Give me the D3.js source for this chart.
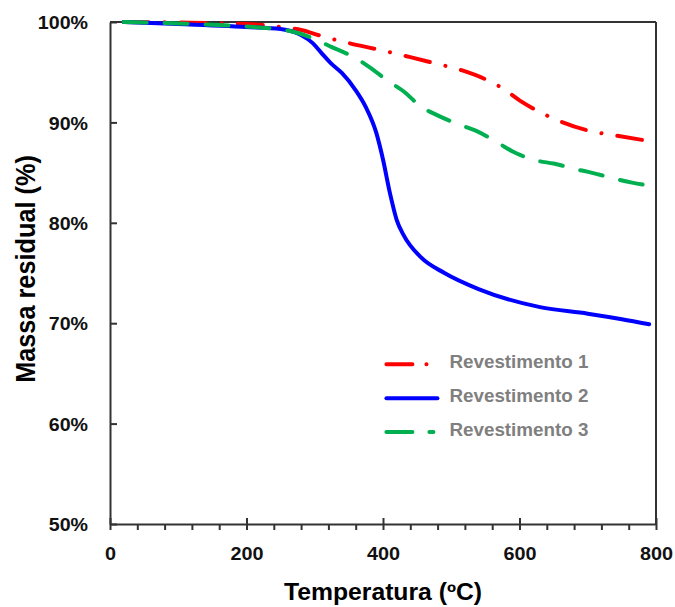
<!DOCTYPE html>
<html>
<head>
<meta charset="utf-8">
<script src="https://cdn.jsdelivr.net/npm/d3@7"></script>
<style>
  html, body { margin: 0; padding: 0; background: #fff; }
  svg text { font-family: "Liberation Sans", Arial, sans-serif; font-weight: bold; }
</style>
</head>
<body>
<div id="chart"></div>
<script>
// series names and colours
var seriesNames = ['Revestimento 1', 'Revestimento 2', 'Revestimento 3'];
var seriesColors = ['#ff0000', '#0000ff', '#00b050'];
var seriesDash = ['25 16 0.1 16', null, '23 18'];

// [temperature ºC, residual mass %]
var rev1 = [[20,100],[100,99.95],[200,99.8],[250,99.5],[280,99.2],[310,98.6],[350,97.9],[390,97.3],
  [440,96.5],[475,95.9],[515,95.2],[550,94.3],[575,93.4],[600,92.2],[625,91.2],[660,90.1],
  [700,89.2],[740,88.7],[785,88.2]];
var rev2 = [[20,100],[100,99.8],[200,99.5],[250,99.3],[280,98.7],[297,97.9],[310,96.9],[325,95.8],
  [340,94.9],[360,93.2],[375,91.5],[390,89],[400,86.3],[410,83],[420,80.3],[430,78.8],[455,76.6],
  [490,75.0],[540,73.4],[630,71.6],[700,70.95],[750,70.4],[790,69.9]];
var rev3 = [[20,100],[100,99.85],[160,99.7],[210,99.5],[245,99.3],[270,99.0],[300,98.3],[325,97.5],
  [360,96.4],[380,95.5],[410,94.0],[430,93.1],[455,91.6],[480,90.7],[515,89.7],[535,89.2],
  [570,87.9],[590,87.1],[625,86.2],[650,85.9],[685,85.3],[705,85.0],[745,84.3],[765,84.0],[790,83.7]];

var xMajorTicks = [0, 200, 400, 600, 800];
var xMinorTicks = [40, 80, 120, 160, 240, 280, 320, 360, 440, 480, 520, 560, 640, 680, 720, 760];
var yTicks = [50, 60, 70, 80, 90, 100];

var w = 675, h = 607;
var margin = { top: 22, right: 19, bottom: 83, left: 110 };
var width = w - margin.left - margin.right;
var height = h - margin.top - margin.bottom;

var svg = d3.select('#chart').append('svg').attr('width', w).attr('height', h);
svg.append('rect').attr('width', w).attr('height', h).attr('fill', '#fff');

var xScale = d3.scaleLinear().domain([0, 800]).range([0, width]);
var yScale = d3.scaleLinear().domain([50, 100]).range([height, 0]);

var g = svg.append('g').attr('transform', 'translate(' + margin.left + ',' + margin.top + ')');

// widen text slightly, the original picture is a bit stretched sideways
function stretch(sel, k) {
  sel.each(function () {
    var len = this.getComputedTextLength();
    d3.select(this).attr('textLength', len * k).attr('lengthAdjust', 'spacingAndGlyphs');
  });
}

// frame (top and right)
g.append('line').attr('x1', 0).attr('x2', width).attr('y1', 0).attr('y2', 0)
  .attr('stroke', '#333').attr('stroke-width', 2);
g.append('line').attr('x1', width).attr('x2', width).attr('y1', 0).attr('y2', height)
  .attr('stroke', '#333').attr('stroke-width', 2);

// lines
var line = d3.line()
  .x(function (d) { return xScale(d[0]); })
  .y(function (d) { return yScale(d[1]); })
  .curve(d3.curveMonotoneX);

[rev1, rev2, rev3].forEach(function (data, i) {
  g.append('path')
    .datum(data)
    .attr('fill', 'none')
    .attr('stroke', seriesColors[i])
    .attr('stroke-width', 4)
    .attr('stroke-linecap', 'round')
    .attr('stroke-dasharray', seriesDash[i])
    .attr('d', line);
});

// x axis minor ticks
var xMinor = g.append('g')
  .attr('transform', 'translate(0,' + height + ')')
  .call(d3.axisBottom(xScale).tickValues(xMinorTicks).tickSize(6).tickSizeOuter(0).tickFormat(''));
xMinor.select('.domain').remove();
xMinor.selectAll('line').attr('stroke', '#333').attr('stroke-width', 2);

// x axis major
var xAxis = g.append('g')
  .attr('transform', 'translate(0,' + height + ')')
  .call(d3.axisBottom(xScale).tickValues(xMajorTicks).tickSize(6).tickSizeOuter(0));
xAxis.select('.domain').attr('stroke', '#333').attr('stroke-width', 2);
xAxis.selectAll('.tick line').attr('y1', -6).attr('y2', 6).attr('stroke', '#333').attr('stroke-width', 2);
xAxis.selectAll('.tick text')
  .attr('y', 36).attr('dy', null)
  .attr('font-size', '18.5px')
  .attr('fill', '#111')
  .call(stretch, 1.07);

// y axis
var yAxis = g.append('g')
  .call(d3.axisLeft(yScale).tickValues(yTicks).tickSize(-7).tickSizeOuter(0).tickPadding(22)
    .tickFormat(function (d) { return d + '%'; }));
yAxis.select('.domain').attr('stroke', '#333').attr('stroke-width', 2);
yAxis.selectAll('.tick line').attr('stroke', '#333').attr('stroke-width', 2);
yAxis.selectAll('.tick text')
  .attr('dy', '0.36em')
  .attr('font-size', '18.5px')
  .attr('fill', '#111')
  .call(stretch, 1.06);

// axis titles
svg.append('text')
  .attr('x', margin.left + width / 2)
  .attr('y', 600)
  .attr('text-anchor', 'middle')
  .attr('font-size', '23px')
  .attr('fill', '#000')
  .text('Temperatura (ºC)')
  .call(stretch, 1.075);

svg.append('text')
  .attr('transform', 'translate(35,' + (margin.top + height / 2 - 4) + ') scale(1.1,1) rotate(-90)')
  .attr('text-anchor', 'middle')
  .attr('font-size', '25.3px')
  .attr('fill', '#000')
  .text('Massa residual (%)');

// legend
var legend = g.append('g').attr('transform', 'translate(' + xScale(405) + ',' + yScale(66.2) + ')');
seriesNames.forEach(function (name, i) {
  var item = legend.append('g').attr('transform', 'translate(0,' + (3 + i * 33.8) + ')');
  item.append('line')
    .attr('x1', 0).attr('x2', 51).attr('y1', 0).attr('y2', 0)
    .attr('stroke', seriesColors[i])
    .attr('stroke-width', 4)
    .attr('stroke-linecap', 'round')
    .attr('stroke-dasharray', i === 0 ? '26 14 0.1 20' : (i === 2 ? '26 17 4 20' : null));
  item.append('text')
    .attr('x', 63)
    .attr('y', 4)
    .attr('font-size', '18px')
    .attr('fill', '#7f7f7f')
    .text(name)
    .call(stretch, 1.045);
});
</script>
</body>
</html>
